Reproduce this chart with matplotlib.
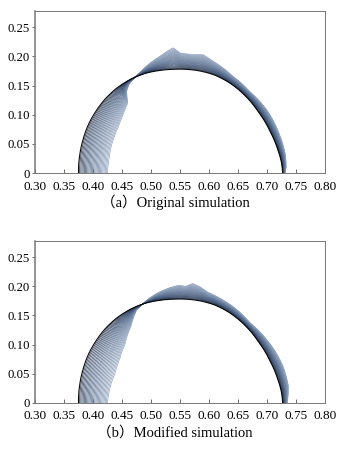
import numpy as np
import matplotlib
matplotlib.use("Agg")
import matplotlib.pyplot as plt
from matplotlib.colors import LinearSegmentedColormap

# ---------------- data ----------------
x_ticks = [0.30, 0.35, 0.40, 0.45, 0.50, 0.55, 0.60, 0.65, 0.70, 0.75, 0.80]
x_tick_labels = ["0.30", "0.35", "0.40", "0.45", "0.50", "0.55", "0.60", "0.65", "0.70", "0.75", "0.80"]
y_ticks = [0, 0.05, 0.10, 0.15, 0.20, 0.25]
y_tick_labels = ["0", "0.05", "0.10", "0.15", "0.20", "0.25"]
captions = ["（a）Original simulation", "（b）Modified simulation"]

# final (darkest) interface, same in both panels
final_x = [0.375, 0.377, 0.383, 0.392, 0.405, 0.420, 0.440, 0.465, 0.490, 0.515, 0.540,
           0.560, 0.585, 0.610, 0.635, 0.660, 0.685, 0.705, 0.718, 0.725, 0.727]
final_y = [0.000, 0.030, 0.058, 0.083, 0.106, 0.126, 0.145, 0.161, 0.171, 0.176, 0.178,
           0.178, 0.175, 0.168, 0.155, 0.135, 0.105, 0.072, 0.042, 0.018, 0.000]

# earliest (lightest) interface, panel (a)
light_a_x = [0.425, 0.427, 0.430, 0.436, 0.444, 0.452, 0.460, 0.458, 0.462, 0.480, 0.500,
             0.515, 0.538, 0.550, 0.570, 0.590, 0.607, 0.640, 0.670, 0.700, 0.720, 0.732, 0.733, 0.731]
light_a_y = [0.000, 0.020, 0.040, 0.060, 0.080, 0.100, 0.120, 0.140, 0.152, 0.172, 0.190,
             0.200, 0.215, 0.206, 0.203, 0.203, 0.192, 0.167, 0.140, 0.108, 0.070, 0.030, 0.010, 0.000]

# earliest (lightest) interface, panel (b)
light_b_x = [0.425, 0.428, 0.432, 0.438, 0.446, 0.455, 0.465, 0.475, 0.481, 0.495, 0.510,
             0.530, 0.548, 0.560, 0.572, 0.585, 0.596, 0.620, 0.642, 0.670, 0.700, 0.728, 0.737, 0.735]
light_b_y = [0.000, 0.020, 0.035, 0.050, 0.075, 0.100, 0.130, 0.159, 0.165, 0.178, 0.188,
             0.197, 0.202, 0.200, 0.205, 0.199, 0.191, 0.179, 0.165, 0.138, 0.108, 0.062, 0.028, 0.000]

# left-foot positions of the successive interfaces (dark -> light)
feet_a = [0.375, 0.377, 0.379, 0.381, 0.383, 0.385, 0.387, 0.389, 0.391, 0.393, 0.395, 0.397,
          0.399, 0.401, 0.403, 0.405, 0.407, 0.409, 0.411, 0.413, 0.415, 0.417, 0.419, 0.421, 0.423, 0.425]
feet_b = [0.375, 0.377, 0.379, 0.381, 0.383, 0.385, 0.387, 0.389, 0.391, 0.393, 0.395, 0.397,
          0.399, 0.401, 0.403, 0.405, 0.407, 0.409, 0.411, 0.413, 0.415, 0.417, 0.419, 0.421, 0.423, 0.425]

# ---------------- helpers ----------------
CX, RX, RY = 0.551, 0.176, 0.178
theta = np.linspace(np.pi, 0, 400)


def polar(xs, ys):
    xs = np.asarray(xs); ys = np.asarray(ys)
    th = np.arctan2(ys / RY, (xs - CX) / RX)
    r = np.hypot(ys / RY, (xs - CX) / RX)
    order = np.argsort(th)
    return np.interp(theta, th[order], r[order])


r_final = polar(final_x, final_y)

cmap = LinearSegmentedColormap.from_list(
    "ink", [(0.0, "#05080d"), (0.06, "#2a3b57"), (0.4, "#4f6688"), (1.0, "#93a5c0")])

plt.rcParams["font.family"] = ["Liberation Serif", "DejaVu Serif"]

fig = plt.figure(figsize=(3.5, 4.53), dpi=100)
axes_rects = [[0.100, 0.618, 0.8286, 0.3577], [0.100, 0.111, 0.8286, 0.357]]
caption_y = [0.554, 0.046]

for k, (lx, ly, feet) in enumerate([(light_a_x, light_a_y, feet_a), (light_b_x, light_b_y, feet_b)]):
    ax = fig.add_axes(axes_rects[k])
    r_light = polar(lx, ly)
    f0, f1 = feet[0], feet[-1]
    for foot in reversed(feet):
        t = (foot - f0) / (f1 - f0)
        r = r_final + t * (r_light - r_final)
        xs = CX + RX * r * np.cos(theta)
        ys = RY * r * np.sin(theta)
        ax.plot(xs, ys, color=cmap(t), lw=0.5 if t > 0 else 0.8, solid_joinstyle="round")
    ax.set_xlim(0.30, 0.80)
    ax.set_ylim(0, 0.278)
    ax.set_xticks(x_ticks)
    ax.set_xticklabels(x_tick_labels)
    ax.set_yticks(y_ticks)
    ax.set_yticklabels(y_tick_labels)
    ax.tick_params(axis="x", direction="in", length=3, width=0.6, color="#555555",
                   labelsize=9.5, pad=5.5)
    ax.tick_params(axis="y", direction="out", length=2.5, width=0.6, color="#555555",
                   labelsize=9.2, pad=1)
    for s in ax.spines.values():
        s.set_color("#777777")
        s.set_linewidth(0.7)
    ax.spines["left"].set_linewidth(1.1)
    fig.text(0.5, caption_y[k], captions[k], ha="center", va="center", fontsize=10.5,
             family=["Liberation Serif", "Noto Sans CJK SC"])

fig.savefig("out.png", dpi=100)
